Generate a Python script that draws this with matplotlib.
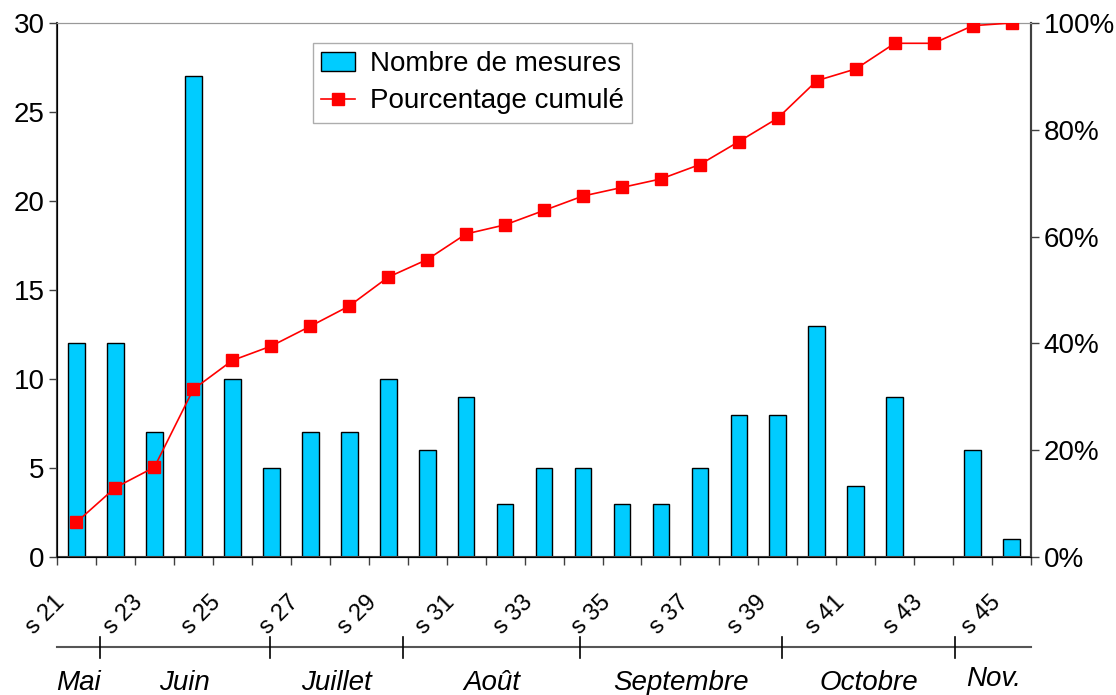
import numpy as np
import matplotlib.pyplot as plt
from matplotlib.transforms import blended_transform_factory

plt.rcParams['font.family'] = ['Liberation Sans', 'DejaVu Sans']

weeks = [f"s {w}" for w in range(21, 46)]
mesures = [12, 12, 7, 27, 10, 5, 7, 7, 10, 6, 9, 3, 5, 5, 3, 3, 5, 8, 8, 13, 4, 9, 0, 6, 1]
cumul_pct = [6.5, 13.0, 16.8, 31.4, 36.8, 39.5, 43.2, 47.0, 52.4, 55.7, 60.5, 62.2, 64.9,
             67.6, 69.2, 70.8, 73.5, 77.8, 82.2, 89.2, 91.4, 96.2, 96.2, 99.5, 100.0]
months = ['Mai', 'Juin', 'Juillet', 'Août', 'Septembre', 'Octobre', 'Nov.']
# month boundaries, in week-index units
month_bounds = [-0.5, 0.6, 4.97, 8.38, 12.92, 18.11, 22.55, 24.5]

FS = 20

fig = plt.figure(figsize=(11.16, 6.95), dpi=100)
ax = fig.add_axes([0.051, 0.1986, 0.873, 0.7683])
x = np.arange(len(weeks))

ax.bar(x, mesures, width=0.43, color='#00CCFF', edgecolor='black', linewidth=1,
       label='Nombre de mesures', zorder=2)
ax.set_xlim(-0.5, len(weeks) - 0.5)
ax.set_ylim(0, 30)
ax.set_yticks(range(0, 31, 5))
ax.tick_params(axis='y', labelsize=FS, length=6, width=1, color='#404040', pad=3)
ax.set_xticks(np.arange(-0.5, len(weeks), 1))
ax.set_xticklabels([])
ax.tick_params(axis='x', length=6, width=1, color='#404040')
for i in range(0, len(weeks), 2):
    ax.annotate(weeks[i], xy=(x[i], 0), xycoords=('data', 'axes fraction'),
                xytext=(-5, -25), textcoords='offset points', rotation=45,
                ha='right', va='top', fontsize=17, annotation_clip=False)

for s in ['left', 'bottom', 'right']:
    ax.spines[s].set_color('#404040')
    ax.spines[s].set_linewidth(1.5)
ax.spines['top'].set_color('#999999')

ax2 = ax.twinx()
ax2.plot(x, cumul_pct, color='red', marker='s', markersize=8.5, linewidth=1.2,
         label='Pourcentage cumulé', zorder=3)
ax2.set_ylim(0, 100)
ax2.set_yticks(range(0, 101, 20))
ax2.set_yticklabels([f"{v}%" for v in range(0, 101, 20)])
ax2.tick_params(axis='y', labelsize=FS, length=6, width=1, color='#404040', pad=3)
ax2.spines['right'].set_color('#404040')
ax2.spines['right'].set_linewidth(1.5)
ax2.spines['top'].set_color('#999999')

h1, l1 = ax.get_legend_handles_labels()
h2, l2 = ax2.get_legend_handles_labels()
leg = ax2.legend(h1 + h2, l1 + l2, loc='upper left', bbox_to_anchor=(0.263, 0.9625),
                 fontsize=FS, frameon=True, fancybox=False, handlelength=1.2,
                 borderpad=0.3, labelspacing=0.4, handletextpad=0.55, borderaxespad=0)
leg.get_frame().set_edgecolor('#999999')
leg.get_frame().set_linewidth(1)

# month row below the week labels
tr = blended_transform_factory(ax.transData, ax.transAxes)
ax.plot([month_bounds[0], month_bounds[-1]], [-0.1685, -0.1685], transform=tr,
        color='#555555', linewidth=1.5, clip_on=False)
for b in month_bounds[1:-1]:
    ax.plot([b, b], [-0.150, -0.189], transform=tr, color='black', linewidth=1.2,
            clip_on=False)
for i, m in enumerate(months):
    cx = (month_bounds[i] + month_bounds[i + 1]) / 2
    y = -0.242 if m == 'Nov.' else -0.249
    ax.text(cx, y, m, transform=tr, ha='center', va='baseline', fontsize=FS,
            style='italic', clip_on=False)

fig.savefig('out.png', dpi=100)
